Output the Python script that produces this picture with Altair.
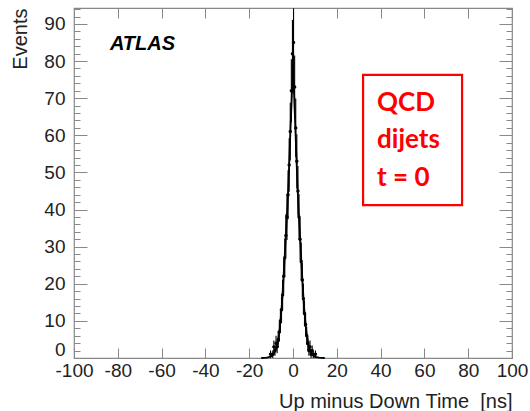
import altair as alt
import pandas as pd

# ---- data ----
bin_centers = [-10.75, -10.25, -9.75, -9.25, -8.75, -8.25, -7.75, -7.25, -6.75, -6.25,
               -5.75, -5.25, -4.75, -4.25, -3.75, -3.25, -2.75, -2.25, -1.75, -1.25,
               -0.75, -0.25, 0.25, 0.75, 1.25, 1.75, 2.25, 2.75, 3.25, 3.75,
               4.25, 4.75, 5.25, 5.75, 6.25, 6.75, 7.25, 7.75, 8.25, 8.75,
               9.25, 9.75, 10.25, 10.75]
counts = [0, 1, 0, 1, 3, 2, 4, 3, 5, 7,
          10, 13, 17, 22, 27, 33, 38, 44, 52, 61,
          72, 82, 85, 73, 62, 53, 45, 38, 32, 26,
          21, 16, 12, 9, 6, 4, 2, 3, 1, 2,
          1, 0, 1, 0]
errors = [0, 1, 0, 1, 1.7, 1.4, 2, 1.7, 2.2, 2.6,
          3.2, 3.6, 4.1, 4.7, 5.2, 5.7, 6.2, 6.6, 7.2, 7.8,
          8.5, 9.1, 9.2, 8.5, 7.9, 7.3, 6.7, 6.2, 5.7, 5.1,
          4.6, 4, 3.5, 3, 2.4, 2, 1.4, 1.7, 1, 1.4,
          1, 0, 1, 0]

fit_x = [-14.5, -12, -10, -9, -8, -7, -6, -5, -4, -3, -2.5, -2, -1.5, -1, -0.5, 0,
         0.5, 1, 1.5, 2, 2.5, 3, 4, 5, 6, 7, 8, 9, 10, 12, 14.5]
fit_y = [0, 0.1, 0.4, 0.9, 2, 4, 8, 15, 25, 36, 41, 48, 56, 64, 71, 76,
         71, 63, 55, 47, 40, 35, 24, 14, 7.5, 3.7, 1.7, 0.8, 0.3, 0.1, 0]

x_ticks = [-100, -80, -60, -40, -20, 0, 20, 40, 60, 80, 100]
y_ticks = [0, 10, 20, 30, 40, 50, 60, 70, 80, 90]
y_labels_main = [10, 20, 30, 40, 50, 60, 70, 80, 90]
y_label_zero = [0]
y_minor = [0, 2, 4, 6, 8, 10, 12, 14, 16, 18, 20, 22, 24, 26, 28, 30, 32, 34, 36, 38,
           40, 42, 44, 46, 48, 50, 52, 54, 56, 58, 60, 62, 64, 66, 68, 70, 72, 74, 76,
           78, 80, 82, 84, 86, 88, 90, 92, 94]

atlas_label = ["ATLAS"]
atlas_pos = [-83.6, 84.6]
box_x = [32.0, 77.2]
box_y = [41.2, 76.3]
box_lines = ["QCD", "dijets", "t = 0"]
box_text_x = [38.4, 38.4, 38.4]
box_text_y = [68.7, 58.8, 48.5]

X_MIN, X_MAX = -100, 100
Y_MIN, Y_MAX = 0, 94.3
W, H = 438, 350
FONT = "Liberation Sans"
TICK_COLOR = "#888888"
LABEL_COLOR = "#222222"

# ---- tables ----
hist = pd.DataFrame({"t": bin_centers, "n": counts, "e": errors})
hist = hist[hist["n"] > 0].copy()
hist["lo"] = hist["n"] - hist["e"]
hist["hi"] = hist["n"] + hist["e"]
fit = pd.DataFrame({"t": fit_x, "f": fit_y})
atlas_df = pd.DataFrame({"x": [atlas_pos[0]], "y": [atlas_pos[1]], "label": atlas_label})
box_df = pd.DataFrame({"x": [box_x[0]], "x2": [box_x[1]], "y": [box_y[0]], "y2": [box_y[1]]})
txt_df = pd.DataFrame({"x": box_text_x, "y": box_text_y, "label": box_lines})

xs = alt.Scale(domain=[X_MIN, X_MAX], nice=False, zero=False)
ys = alt.Scale(domain=[Y_MIN, Y_MAX], nice=False, zero=False)


def tick_axis(values, orient, offset, size):
    return alt.Axis(values=values, orient=orient, offset=offset, tickSize=size,
                    labels=False, domain=False, grid=False, title=None,
                    tickColor=TICK_COLOR, tickWidth=1)


# points: carry label axes
points = alt.Chart(hist).mark_circle(size=12, color="black", opacity=1).encode(
    x=alt.X("t:Q", scale=xs, axis=alt.Axis(
        values=x_ticks, orient="bottom", ticks=False, domain=False, grid=False,
        labelExpr="'' + datum.value",
        labelFont=FONT, labelFontSize=19, labelColor=LABEL_COLOR, labelPadding=3,
        labelFlush=False, labelOverlap=False,
        title="Up minus Down Time\u00a0 [ns]", titleFont=FONT, titleFontSize=20,
        titleFontWeight="normal", titleColor=LABEL_COLOR,
        titleX=W, titleY=43, titleAlign="right", titleBaseline="middle")),
    y=alt.Y("n:Q", scale=ys, axis=alt.Axis(
        values=y_labels_main, orient="left", ticks=False, domain=False, grid=False,
        labelExpr="'' + datum.value",
        labelFont=FONT, labelFontSize=19, labelColor=LABEL_COLOR, labelPadding=9,
        labelFlush=False, labelOverlap=False,
        title="Events", titleFont=FONT, titleFontSize=20, titleFontWeight="normal",
        titleColor=LABEL_COLOR, titleAngle=-90, titleX=-54, titleY=0,
        titleAlign="right", titleBaseline="middle")),
)

# error bars: bottom inward x ticks, left inward major y ticks
errbars = alt.Chart(hist).mark_rule(color="black", strokeWidth=1.1).encode(
    x=alt.X("t:Q", scale=xs, axis=tick_axis(x_ticks, "top", -H, 10)),
    y=alt.Y("lo:Q", scale=ys, axis=tick_axis(y_ticks, "right", -W, 13)),
    y2="hi:Q",
)

# fit line: top inward x ticks, right inward major y ticks
fitline = alt.Chart(fit).mark_line(color="black", strokeWidth=1.8).encode(
    x=alt.X("t:Q", scale=xs, axis=tick_axis(x_ticks, "bottom", -H, 10)),
    y=alt.Y("f:Q", scale=ys, axis=tick_axis(y_ticks, "left", -W, 13)),
)

# ATLAS label: left inward minor y ticks
atlas = alt.Chart(atlas_df).mark_text(
    font=FONT, fontSize=20, fontWeight="bold", fontStyle="italic",
    align="left", baseline="middle", color="black").encode(
    x=alt.X("x:Q", scale=xs, axis=None),
    y=alt.Y("y:Q", scale=ys, axis=tick_axis(y_minor, "right", -W, 6)),
    text="label:N",
)

# red box: carries the raised "0" label of the y axis
box = alt.Chart(box_df).mark_rect(fill=None, stroke="#ff0000", strokeWidth=2.2).encode(
    x=alt.X("x:Q", scale=xs, axis=None), x2="x2:Q",
    y=alt.Y("y:Q", scale=ys, axis=alt.Axis(
        values=y_label_zero, orient="left", ticks=False, domain=False, grid=False,
        labelExpr="'' + datum.value", labelFont=FONT, labelFontSize=19,
        labelColor=LABEL_COLOR, labelPadding=9, labelOffset=-9,
        labelFlush=False, labelOverlap=False, title=None)),
    y2="y2:Q",
)

# red text: right inward minor y ticks
boxtxt = alt.Chart(txt_df).mark_text(
    font="Lato", fontSize=26, fontWeight="bold", align="left", baseline="middle",
    color="#ff0000").encode(
    x=alt.X("x:Q", scale=xs, axis=None),
    y=alt.Y("y:Q", scale=ys, axis=tick_axis(y_minor, "left", -W, 6)),
    text="label:N",
)

chart = alt.layer(fitline, errbars, points, atlas, box, boxtxt).resolve_axis(
    x="independent", y="independent"
).properties(
    width=W, height=H, autosize="none",
    padding={"left": 74, "top": 8, "right": 18, "bottom": 53},
).configure_view(stroke=TICK_COLOR, strokeWidth=1.2)

chart.save("out.html", embed_options={"renderer": "svg", "actions": False})
